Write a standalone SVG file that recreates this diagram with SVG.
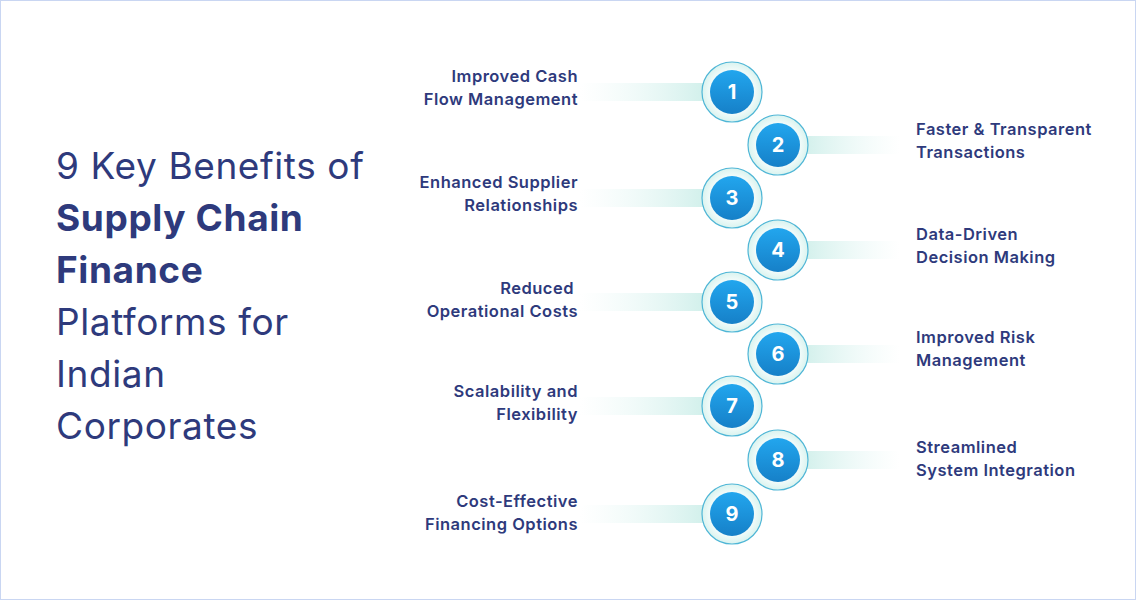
<svg xmlns="http://www.w3.org/2000/svg" width="1136" height="600" viewBox="0 0 1136 600">
<defs>
<linearGradient id="bl" x1="0" x2="1"><stop offset="0" stop-color="#e6f7f5" stop-opacity="0"/><stop offset="1" stop-color="#cfefea"/></linearGradient>
<linearGradient id="br" x1="1" x2="0"><stop offset="0" stop-color="#e6f7f5" stop-opacity="0"/><stop offset="1" stop-color="#cfefea"/></linearGradient>
<linearGradient id="ball" x1="0" y1="0" x2="0" y2="1"><stop offset="0" stop-color="#22a6ee"/><stop offset="1" stop-color="#1680c8"/></linearGradient>
<radialGradient id="ring"><stop offset="0.7" stop-color="#f4fcfb"/><stop offset="1" stop-color="#d9f3ef"/></radialGradient>
<g id="node"><circle r="30" fill="url(#ring)" stroke="#4fb6d6" stroke-width="1.2"/><circle r="22" fill="url(#ball)"/></g>
</defs>
<style>
.t{font-family:Inter,"Noto Sans",sans-serif;font-size:16.5px;letter-spacing:0.5px;font-weight:600;fill:#2e3a7c}
.l{text-anchor:end}
.n{font-family:Inter,"Noto Sans",sans-serif;font-size:20px;font-weight:700;fill:#fff;text-anchor:middle}
.h{font-family:Inter,"Noto Sans",sans-serif;font-size:37px;letter-spacing:0.6px;fill:#2e3a7c}
</style>
<rect x="0.5" y="0.5" width="1135" height="599" fill="#fff" stroke="#c9d6f2"/>
<g id="title">
<text class="h" x="56" y="179">9 Key Benefits of</text>
<text class="h" x="56" y="231" font-weight="700">Supply Chain</text>
<text class="h" x="56" y="283" font-weight="700">Finance</text>
<text class="h" x="56" y="335">Platforms for</text>
<text class="h" x="56" y="387">Indian</text>
<text class="h" x="56" y="439">Corporates</text>
</g>
<g id="connectors">
<rect x="580" y="83" width="130" height="18" fill="url(#bl)"/>
<rect x="800" y="136" width="100" height="18" fill="url(#br)"/>
<rect x="580" y="189" width="130" height="18" fill="url(#bl)"/>
<rect x="800" y="241" width="100" height="18" fill="url(#br)"/>
<rect x="580" y="293" width="130" height="18" fill="url(#bl)"/>
<rect x="800" y="345" width="100" height="18" fill="url(#br)"/>
<rect x="580" y="397" width="130" height="18" fill="url(#bl)"/>
<rect x="800" y="451" width="100" height="18" fill="url(#br)"/>
<rect x="580" y="505" width="130" height="18" fill="url(#bl)"/>
</g>
<g id="n1"><use href="#node" x="732" y="92"/><text class="n" x="732" y="99">1</text><text class="t l" x="578" y="82">Improved Cash</text><text class="t l" x="578" y="105">Flow Management</text></g>
<g id="n2"><use href="#node" x="778" y="145"/><text class="n" x="778" y="152">2</text><text class="t" x="916" y="135">Faster &amp; Transparent</text><text class="t" x="916" y="158">Transactions</text></g>
<g id="n3"><use href="#node" x="732" y="198"/><text class="n" x="732" y="205">3</text><text class="t l" x="578" y="188">Enhanced Supplier</text><text class="t l" x="578" y="211">Relationships</text></g>
<g id="n4"><use href="#node" x="778" y="250"/><text class="n" x="778" y="257">4</text><text class="t" x="916" y="240">Data-Driven</text><text class="t" x="916" y="263">Decision Making</text></g>
<g id="n5"><use href="#node" x="732" y="302"/><text class="n" x="732" y="309">5</text><text class="t l" x="574" y="294">Reduced</text><text class="t l" x="578" y="317">Operational Costs</text></g>
<g id="n6"><use href="#node" x="778" y="354"/><text class="n" x="778" y="361">6</text><text class="t" x="916" y="343">Improved Risk</text><text class="t" x="916" y="366">Management</text></g>
<g id="n7"><use href="#node" x="732" y="406"/><text class="n" x="732" y="413">7</text><text class="t l" x="578" y="397">Scalability and</text><text class="t l" x="578" y="420">Flexibility</text></g>
<g id="n8"><use href="#node" x="778" y="460"/><text class="n" x="778" y="467">8</text><text class="t" x="916" y="453">Streamlined</text><text class="t" x="916" y="476">System Integration</text></g>
<g id="n9"><use href="#node" x="732" y="514"/><text class="n" x="732" y="521">9</text><text class="t l" x="578" y="507">Cost-Effective</text><text class="t l" x="578" y="530">Financing Options</text></g>
</svg>
